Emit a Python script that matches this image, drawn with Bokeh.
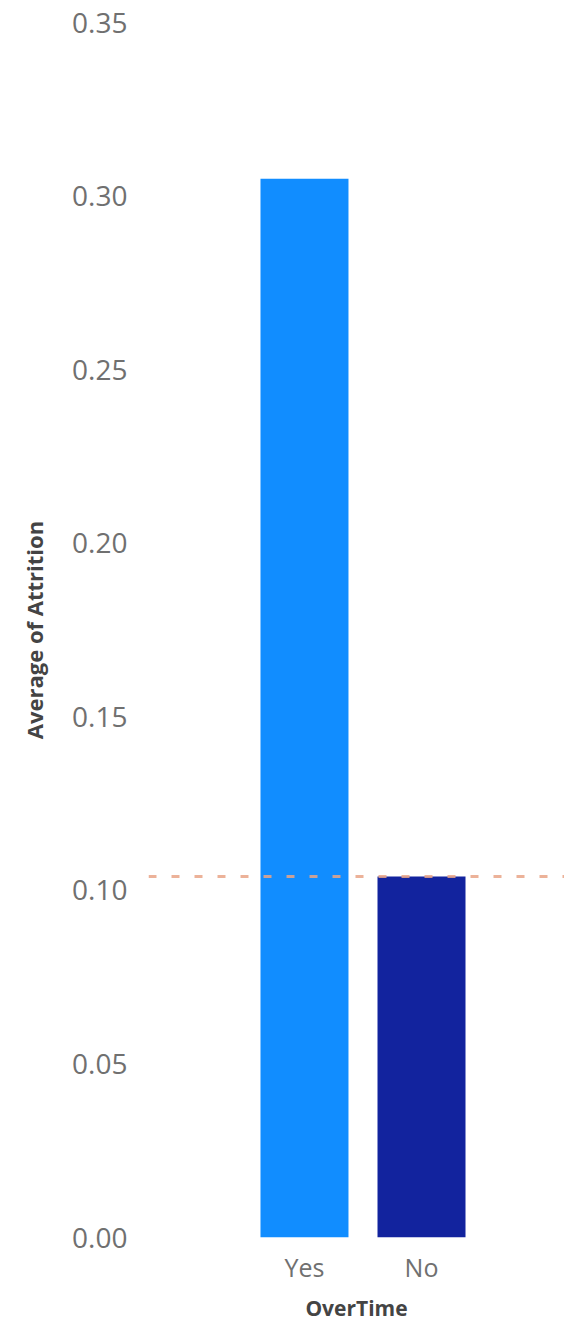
from bokeh.plotting import figure
from bokeh.models import Range1d, Span, FixedTicker
from bokeh.embed import file_html
from bokeh.resources import INLINE

categories = ["Yes", "No"]
avg_attrition = [0.305, 0.104]
bar_colors = ["#118DFF", "#12239E"]
y_ticks = [0.0, 0.05, 0.10, 0.15, 0.20, 0.25, 0.30, 0.35]
y_tick_labels = ["0.00", "0.05", "0.10", "0.15", "0.20", "0.25", "0.30", "0.35"]
reference_line = [0.104]

xs = list(range(len(categories)))

p = figure(width=564, height=1325, output_backend="svg", toolbar_location=None,
           x_range=Range1d(-1.333, 2.222), y_range=Range1d(0, 0.35),
           min_border_left=148, min_border_right=0, min_border_top=22, min_border_bottom=88)
p.outline_line_color = None
p.background_fill_color = "white"
p.border_fill_color = "white"

p.vbar(x=xs, top=avg_attrition, width=0.752, color=bar_colors, line_color=None)

for v in reference_line:
    p.add_layout(Span(location=v, dimension="width", line_color="#E9A487",
                      line_width=3, line_dash="8 15", line_alpha=0.85))

p.xgrid.visible = False
p.ygrid.visible = False

p.xaxis.ticker = FixedTicker(ticks=xs)
p.xaxis.major_label_overrides = {i: c for i, c in zip(xs, categories)}
p.yaxis.ticker = FixedTicker(ticks=y_ticks)
p.yaxis.major_label_overrides = {t: l for t, l in zip(y_ticks, y_tick_labels)}

for ax in (p.xaxis[0], p.yaxis[0]):
    ax.axis_line_color = None
    ax.major_tick_line_color = None
    ax.minor_tick_line_color = None
    ax.major_tick_out = 0
    ax.major_tick_in = 0
    ax.minor_tick_out = 0
    ax.minor_tick_in = 0
    ax.major_label_text_font = "Open Sans"
    ax.major_label_text_color = "#707070"
    ax.axis_label_text_font = "Open Sans"
    ax.axis_label_text_font_style = "bold"
    ax.axis_label_text_color = "#444444"

p.xaxis.major_label_text_font_size = "25px"
p.yaxis.major_label_text_font_size = "28px"
p.xaxis.axis_label_text_font_size = "21px"
p.yaxis.axis_label_text_font_size = "22px"
p.xaxis.axis_label = "OverTime"
p.yaxis.axis_label = "Average of Attrition"
p.xaxis.major_label_standoff = 12
p.xaxis.axis_label_standoff = 7
p.yaxis.major_label_standoff = 21
p.yaxis.axis_label_standoff = 20

open("out.html", "w").write(file_html(p, INLINE))
